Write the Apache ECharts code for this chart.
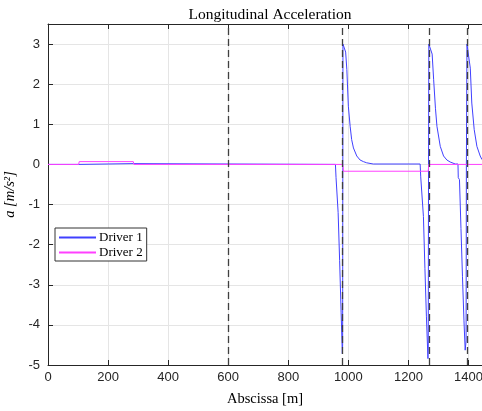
<!DOCTYPE html>
<html><head><meta charset="utf-8">
<script src="https://cdn.jsdelivr.net/npm/echarts@6/dist/echarts.min.js"></script>
<style>html,body{margin:0;padding:0;background:#fff}#c{width:482px;height:411px}</style>
</head><body><div id="c"></div>
<script>
const xTicks = [0,200,400,600,800,1000,1200,1400];
const yTicks = [-5,-4,-3,-2,-1,0,1,2,3];
const markers = [600, 981, 1268, 1395];

const driver1X = [0,102,103,285,286,957,959,962,966,971,976,980,981,982,988,991,995,1000,1006,1011,1017,1028,1039,1050,1061,1083,1239,1241,1246,1250,1255,1260,1265,1266,1267,1268,1274,1279,1284,1290,1295,1306,1317,1328,1339,1356,1365,1366,1370,1375,1380,1385,1389,1392,1393,1395,1400,1406,1411,1419,1428,1439,1445];
const driver1Y = [0,0,0.02,0.02,0,0,-0.33,-0.35,-1.2,-2.4,-3.7,-4.72,-4.5,3.0,3.0,2.8,2.36,1.45,0.95,0.62,0.41,0.21,0.11,0.07,0.04,0.01,0.01,-0.31,-0.35,-1.3,-2.6,-3.8,-4.84,-4.6,0,3.0,3.0,2.75,2.11,1.4,0.95,0.45,0.21,0.11,0.06,0.01,0.01,-0.33,-0.38,-1.6,-2.8,-3.9,-4.63,-4.4,0,3.0,3.0,2.4,1.53,0.87,0.45,0.21,0.12];
const driver2X = [0,102,104,284,286,981,984,1266,1268,1445];
const driver2Y = [0,0,0.07,0.07,0,0,-0.17,-0.17,0,0];

const zip = (xs, ys) => xs.map((x, i) => [x, ys[i]]);
const chart = echarts.init(document.getElementById('c'), null, {renderer:'canvas'});
const axisColor = '#262626';
const serif = 'Liberation Serif, DejaVu Serif, serif';
const blue = '#4040ff', pink = '#ff40ff';
const tickFont = {fontFamily:'Liberation Sans, Arial, sans-serif', fontSize:13, color:'#262626'};
chart.setOption({
  animation:false,
  backgroundColor:'#fff',
  title:{text:'Longitudinal Acceleration', left:265, top:2, textAlign:'center',
    textStyle:{fontFamily:serif, fontSize:15.5, fontWeight:'normal', color:'#000'}},
  grid:{left:48, right:0, top:24, bottom:46, containLabel:false, outerBoundsMode:'none'},
  legend:{orient:'vertical', left:55, top:228, itemWidth:37, itemHeight:2, itemGap:2, icon:'rect',
    backgroundColor:'#fff', borderColor:'#333', borderWidth:1, borderRadius:0,
    padding:[3,4,2,4],
    textStyle:{fontFamily:serif, fontSize:13, color:'#000', padding:[0,0,0,-2]},
    data:[{name:'Driver 1', itemStyle:{color:blue, borderWidth:0}, lineStyle:{color:blue, width:0}},
          {name:'Driver 2', itemStyle:{color:pink, borderWidth:0}, lineStyle:{color:pink, width:0}}]},
  xAxis:[{type:'value', min:xTicks[0], max:1445, interval:200,
    name:'Abscissa [m]', nameLocation:'middle', nameGap:27,
    nameTextStyle:{fontFamily:serif, fontSize:14.5, color:'#000'},
    axisLine:{show:true, onZero:false, lineStyle:{color:axisColor}},
    axisTick:{show:true, inside:true, length:5, lineStyle:{color:axisColor}},
    axisLabel:Object.assign({showMaxLabel:false, margin:6, formatter:v => String(v)}, tickFont),
    splitLine:{show:true, lineStyle:{color:'#e5e5e5', width:1}}},
   {type:'value', position:'top', min:xTicks[0], max:1445, interval:200,
    axisLine:{show:true, onZero:false, lineStyle:{color:axisColor}},
    axisTick:{show:true, inside:true, length:5, lineStyle:{color:axisColor}},
    axisLabel:{show:false}, splitLine:{show:false}}],
  yAxis:[{type:'value', min:yTicks[0], max:3.5, interval:1,
    name:'a [m/s²]', nameLocation:'middle', nameGap:30, nameRotate:90,
    nameTextStyle:{fontFamily:serif, fontSize:14.5, fontStyle:'italic', color:'#000'},
    axisLine:{show:true, onZero:false, lineStyle:{color:axisColor}},
    axisTick:{show:true, inside:true, length:5, lineStyle:{color:axisColor}},
    axisLabel:Object.assign({showMaxLabel:false, margin:8, formatter:v => String(v)}, tickFont),
    splitLine:{show:true, lineStyle:{color:'#e5e5e5', width:1}}}],
  series:[
    {name:'Driver 1', type:'line', data:zip(driver1X, driver1Y), symbol:'none', showSymbol:false,
     lineStyle:{color:blue, width:1}, itemStyle:{color:blue}, z:3},
    {name:'Driver 2', type:'line', data:zip(driver2X, driver2Y), symbol:'none', showSymbol:false,
     lineStyle:{color:pink, width:1}, itemStyle:{color:pink}, z:4,
     markLine:{silent:true, symbol:'none', label:{show:false}, animation:false,
       lineStyle:{color:'#404040', type:[7,4], width:1.3},
       data:markers.map(v => ({xAxis:v}))}}
  ]
});
</script></body></html>
